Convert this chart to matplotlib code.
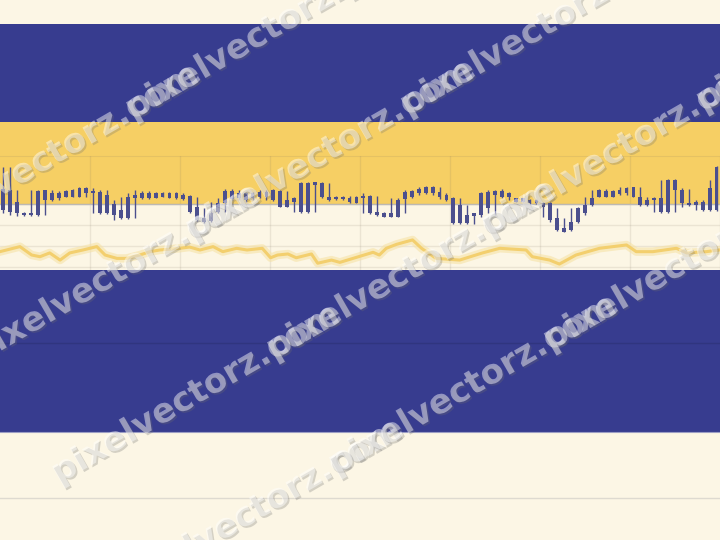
import numpy as np
import matplotlib
matplotlib.use('Agg')
import matplotlib.pyplot as plt
import matplotlib.patheffects as pe

# candle data, one entry per bar
opens = [100.70, 100.67, 100.11, 99.56, 99.56, 99.48, 100.19, 100.19, 100.27, 100.35,
         100.35, 100.35, 100.51, 100.63, 100.59, 100.43, 100.00, 99.71, 99.32, 100.27,
         100.27, 100.27, 100.30, 100.35, 100.30, 100.27, 100.43, 100.40, 99.87, 99.32,
         99.21, 99.63, 100.03, 100.22, 100.27, 100.19, 100.27, 100.35, 100.59, 100.67,
         100.63, 100.19, 100.27, 99.63, 100.98, 101.06, 100.98, 100.35, 100.35, 100.35,
         100.27, 100.35, 100.40, 100.40, 99.63, 99.56, 99.40, 99.40, 100.22, 100.35,
         100.51, 100.51, 100.83, 100.59, 100.43, 100.27, 99.95, 99.48, 99.56, 99.48,
         99.79, 100.63, 100.35, 100.51, 100.27, 100.27, 100.19, 100.19, 100.03, 100.03,
         99.32, 98.84, 98.76, 99.16, 99.56, 99.95, 100.35, 100.35, 100.35, 100.48,
         100.51, 100.79, 100.35, 100.19, 100.27, 100.27, 99.63, 101.14, 100.67, 100.03,
         100.11, 100.11, 99.71, 99.71]
highs = [101.78, 101.78, 100.67, 99.60, 100.67, 100.67, 100.67, 100.67, 100.63, 100.67,
         100.70, 100.83, 100.79, 100.75, 100.67, 100.67, 100.19, 100.35, 100.51, 100.67,
         100.60, 100.60, 100.58, 100.58, 100.58, 100.55, 100.54, 100.43, 100.35, 99.79,
         100.11, 100.27, 100.70, 100.70, 100.67, 100.59, 100.59, 100.67, 100.67, 100.70,
         100.67, 100.63, 100.35, 101.06, 101.06, 101.06, 101.06, 101.02, 100.40, 100.40,
         100.38, 100.38, 100.51, 100.43, 100.40, 99.63, 100.27, 100.27, 100.67, 100.67,
         100.79, 100.86, 100.86, 100.79, 100.54, 100.35, 100.27, 99.95, 99.59, 100.59,
         100.67, 100.67, 100.70, 100.59, 100.30, 100.30, 100.22, 100.22, 100.11, 100.11,
         99.79, 99.32, 99.79, 99.87, 100.35, 100.67, 100.70, 100.70, 100.67, 100.79,
         100.79, 100.83, 100.83, 100.35, 100.32, 101.14, 101.17, 101.17, 100.75, 100.70,
         100.19, 100.19, 101.14, 101.81]
lows = [99.56, 99.50, 99.44, 99.44, 99.44, 99.44, 99.48, 100.16, 100.19, 100.32,
        100.33, 100.32, 100.35, 99.56, 99.52, 99.52, 99.24, 99.27, 99.27, 99.32,
        100.24, 100.24, 100.27, 100.32, 100.27, 100.24, 100.19, 99.56, 99.21, 99.11,
        99.16, 99.56, 99.63, 100.19, 100.19, 100.11, 100.19, 100.27, 100.19, 100.16,
        99.84, 99.84, 99.63, 99.59, 99.59, 99.63, 100.27, 100.16, 100.19, 100.19,
        100.06, 100.06, 99.59, 99.52, 99.44, 99.37, 99.37, 99.37, 99.56, 100.27,
        100.43, 100.48, 100.43, 100.22, 100.16, 99.05, 99.05, 99.05, 99.05, 99.40,
        99.56, 99.48, 100.27, 100.19, 100.08, 100.08, 100.00, 100.00, 99.40, 99.16,
        98.73, 98.65, 98.73, 99.11, 99.48, 99.90, 100.32, 100.32, 100.32, 100.43,
        100.43, 100.32, 99.90, 99.90, 99.63, 99.59, 99.59, 99.63, 99.87, 99.90,
        99.71, 99.67, 99.67, 99.67]
closes = [99.70, 99.60, 99.56, 99.48, 99.48, 100.63, 100.67, 100.51, 100.51, 100.63,
          100.67, 100.75, 100.75, 100.51, 99.56, 99.56, 99.48, 99.32, 100.35, 100.43,
          100.54, 100.54, 100.54, 100.54, 100.54, 100.51, 100.22, 99.63, 99.24, 99.16,
          99.56, 100.03, 100.63, 100.63, 100.51, 100.51, 100.51, 100.59, 100.35, 100.19,
          99.87, 99.87, 100.11, 100.98, 99.63, 100.90, 100.35, 100.19, 100.22, 100.22,
          100.11, 100.06, 100.27, 99.56, 99.48, 99.40, 99.56, 100.19, 100.59, 100.63,
          100.70, 100.83, 100.51, 100.35, 100.19, 99.08, 99.08, 99.08, 99.44, 100.51,
          100.59, 100.43, 100.63, 100.35, 100.11, 100.11, 100.03, 100.03, 99.87, 99.24,
          98.76, 98.68, 99.16, 99.79, 99.95, 100.27, 100.67, 100.63, 100.63, 100.67,
          100.75, 100.35, 99.95, 99.95, 100.19, 99.63, 101.14, 100.67, 100.03, 99.95,
          99.95, 99.71, 100.75, 101.78]

# indicator line (position in bars, value)
line_x = [-0.5, 2.4, 4.1, 5.3, 6.7, 8.2, 9.6, 11.5, 13.5, 14.7, 16.4, 17.8, 19.7, 21.2,
          22.6, 25.5, 26.9, 28.4, 30.3, 31.7, 33.7, 35.2, 37.4, 38.6, 39.6, 41.1, 42.3,
          44.5, 45.4, 47.4, 48.6, 53.4, 54.3, 55.3, 56.8, 59.1, 60.4, 62.5, 65.9, 69.2,
          71.7, 75.5, 76.4, 78.9, 80.3, 82.7, 86.1, 90.0, 91.4, 93.8, 97.2, 98.7, 101.5, 103.4]
line_y = [97.73, 97.97, 97.57, 97.49, 97.67, 97.33, 97.67, 97.81, 97.97, 97.57, 97.41,
          97.41, 97.57, 97.73, 97.81, 97.89, 97.95, 97.81, 97.97, 97.73, 97.89, 97.81,
          97.89, 97.44, 97.57, 97.62, 97.44, 97.62, 97.18, 97.33, 97.22, 97.70, 97.57,
          97.89, 98.08, 98.29, 97.89, 97.41, 97.33, 97.67, 97.89, 97.81, 97.49, 97.33,
          97.14, 97.57, 97.89, 98.05, 97.73, 97.73, 97.89, 97.67, 97.73, 97.81]

CREAM = '#FCF6E5'
BLUE = '#373C8F'
YELLOW = '#F6CF64'
CANDLE = '#4B4F8E'

fig = plt.figure(figsize=(7.2, 5.4), dpi=100)
fig.patch.set_facecolor(CREAM)

# background bands (pixel layout)
ax_bg = fig.add_axes([0, 0, 1, 1], zorder=0)
ax_bg.set_xlim(0, 720)
ax_bg.set_ylim(540, 0)
ax_bg.axis('off')
ax_bg.axhspan(24, 122, color=BLUE, lw=0)
ax_bg.axhspan(122, 205, color=YELLOW, lw=0)
ax_bg.axhspan(270, 432, color=BLUE, lw=0)
ax_bg.axhline(343, color='#30357F', lw=1)
ax_bg.axhline(432, color='#9C9EC4', lw=0.8)
ax_bg.axhline(498, color='#DEDAD0', lw=1)

# price panel
ax = fig.add_axes([0, 0.5, 1, (270 - 156) / 540], zorder=1)
ax.patch.set_alpha(0)
xs = np.arange(len(opens))
ax.set_xlim(-0.476, 103.42)
ax.set_ylim(96.857, 102.286)
ax.set_xticks(np.arange(12.5, 104, 13))
ax.set_yticks([97, 98, 99, 100])
ax.grid(True, color='#7A7260', alpha=0.13, lw=1)
ax.set_axisbelow(True)
ax.tick_params(length=0, labelbottom=False, labelleft=False)
for s in ['left', 'right', 'bottom']:
    ax.spines[s].set_visible(False)
ax.spines['top'].set_color('#7A7260')
ax.spines['top'].set_alpha(0.13)
ax.axhline(100, color='#BDB9B3', lw=1.0, zorder=1)

o = np.array(opens)
c = np.array(closes)
ax.vlines(xs, lows, highs, color=CANDLE, lw=1.0, zorder=3)
ax.bar(xs, np.abs(c - o), bottom=np.minimum(o, c), width=0.55, color=CANDLE, zorder=3)

ax.plot(line_x, line_y, color='#F6E2A6', lw=6, alpha=0.6, solid_joinstyle='round', zorder=2)
ax.plot(line_x, line_y, color='#F3CF6E', lw=2.2, solid_joinstyle='round', zorder=2)

# watermark rows (start of each row, in pixels)
row_starts = [(-82, 244), (-22, 364), (59, 484), (121, 599)]
ang = np.deg2rad(30)
step = 248
for (x0, y0) in row_starts:
    for k in range(4):
        px = x0 + k * step * np.cos(ang)
        py = y0 - k * step * np.sin(ang)
        fig.text(px / 720, 1 - py / 540, 'pixelvectorz.com', rotation=30,
                 rotation_mode='anchor', ha='left', va='baseline',
                 fontsize=24.5, fontweight='bold', color=(1, 1, 1, 0.45), zorder=5,
                 path_effects=[pe.withSimplePatchShadow(offset=(1.2, -1.2),
                                                        shadow_rgbFace='#6E6E6E', alpha=0.28)])

fig.savefig('out.png', dpi=100, facecolor=fig.get_facecolor())
